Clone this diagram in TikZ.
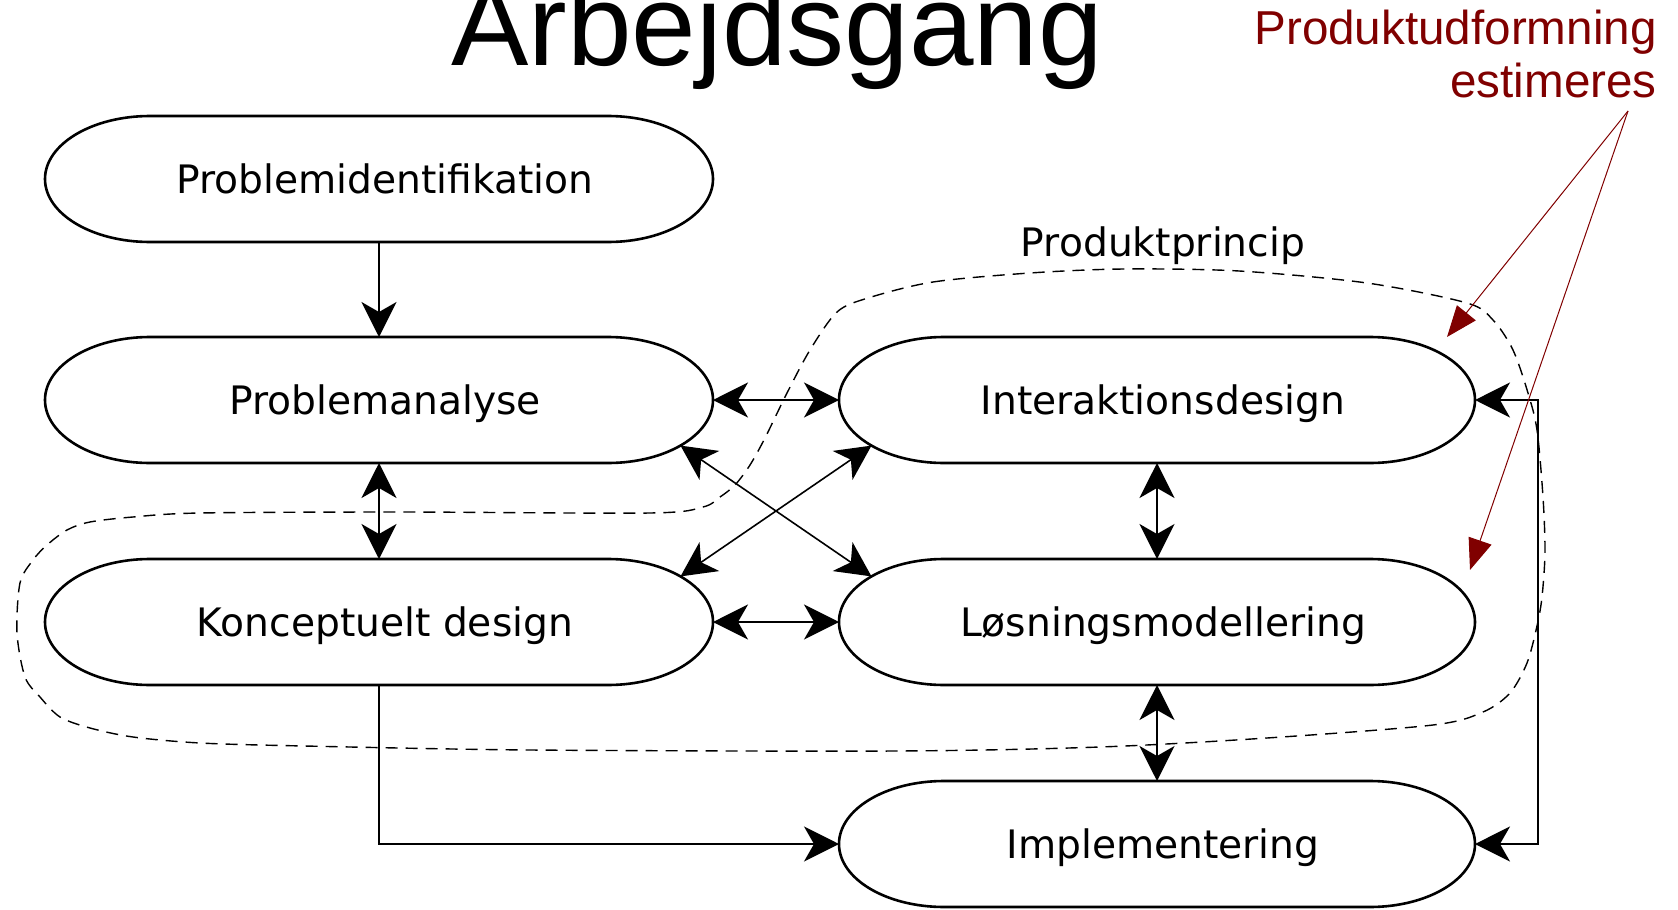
\documentclass[tikz,border=0pt]{standalone}
\usepackage{fontspec}
\setmainfont{DejaVu Sans}
\newfontfamily\headfont{Liberation Sans}
\usetikzlibrary{arrows.meta,calc}
\definecolor{notered}{HTML}{800000}

\tikzset{
  stadiumline/.style={line width=1.3pt},
  boxtext/.style={inner sep=0pt, text height=16pt, text depth=2pt,
    font=\fontsize{19.6pt}{23pt}\selectfont},
  conn/.style={line width=0.8pt},
  thinconn/.style={line width=0.7pt},
  >={Stealth[length=17.5pt,width=17.5pt,inset=5pt]},
  scopeloop/.style={dash pattern=on 6pt off 4pt, line width=0.7pt},
  note/.style={draw=notered, line width=0.5pt, -{Triangle[length=15.5pt,width=12pt,fill=notered]}},
}

% stadium-shaped box: name, centre x, centre y, half width, text
\newcommand{\stadiumnode}[5]{%
  \coordinate (#1) at (#2,#3);
  \draw[stadiumline] ({#2-#4+105},{#3-63}) -- ({#2+#4-105},{#3-63})
    arc[start angle=-90,end angle=90,x radius=105,y radius=63]
    -- ({#2-#4+105},{#3+63})
    arc[start angle=90,end angle=270,x radius=105,y radius=63] -- cycle;
  \node[boxtext] (#1-txt) at ({#2+6},#3) {#5};
}

\begin{document}
\begin{tikzpicture}[x=0.5pt,y=-0.5pt]
\useasboundingbox (0,0) rectangle (1678,910);

\node[font=\headfont\fontsize{58pt}{60pt}\selectfont, anchor=base, inner sep=0pt] (title) at (777,65) {Arbejdsgang};

\stadiumnode{pi}{379}{179}{334}{Problemidentifikation}
\stadiumnode{pa}{379}{400}{334}{Problemanalyse}
\stadiumnode{kd}{379}{622}{334}{Konceptuelt design}
\stadiumnode{id}{1157}{400}{318}{Interaktionsdesign}
\stadiumnode{lm}{1157}{622}{318}{Løsningsmodellering}
\stadiumnode{im}{1157}{844}{318}{Implementering}

% process connectors
\draw[conn,->] ($(pi)+(0,63)$) -- ($(pa)+(0,-63)$);
\draw[conn,<->] ($(pa)+(0,63)$) -- ($(kd)+(0,-63)$);
\draw[conn,<->] ($(pa)+(334,0)$) -- ($(id)+(-318,0)$);
\draw[conn,<->] ($(kd)+(334,0)$) -- ($(lm)+(-318,0)$);
\draw[conn,<->] ($(pa)+(301.5,45.6)$) -- ($(lm)+(-285.5,-45.6)$);
\draw[conn,<->] ($(kd)+(301.5,-45.6)$) -- ($(id)+(-285.5,45.6)$);
\draw[conn,<->] ($(id)+(0,63)$) -- ($(lm)+(0,-63)$);
\draw[conn,<->] ($(lm)+(0,63)$) -- ($(im)+(0,-63)$);
\draw[thinconn,->] ($(kd)+(0,63)$) |- ($(im)+(-318,0)$);
\draw[thinconn,<->] ($(id)+(318,0)$) -- ++(63,0) |- ($(im)+(318,0)$);

% product principle boundary
\draw[scopeloop] plot[smooth cycle, tension=0.5] coordinates {
  (868,298) (933,282) (1030,273) (1124,269) (1239,271) (1367,283)
  (1467,303) (1493,320) (1513,350) (1528,393) (1537,430) (1543,497)
  (1545,552) (1542,597) (1537,626) (1527,663) (1510,693) (1483,712)
  (1433,725) (1267,738) (1100,747) (897,751) (530,750) (304,746)
  (200,743) (133,737) (90,728) (60,717) (40,697) (25,677) (17,633)
  (20,583) (33,560) (47,545) (67,530) (90,522) (133,517) (200,513)
  (400,512) (650,513) (703,507) (720,497) (735,485) (750,465)
  (765,438) (787,393) (810,350) (837,312)};
\node[font=\fontsize{19.6pt}{23pt}\selectfont, inner sep=0pt, anchor=base] (pp) at (1163,256) {Produktprincip};

% estimation note
\node[font=\headfont\fontsize{23.8pt}{26.5pt}\selectfont, text=notered, align=right, anchor=north east, inner sep=0pt] (est) at (1657,10) {Produktudformning\\estimeres};
\coordinate (src) at (1628,111);
\coordinate (tipA) at (1447,337);
\coordinate (tipB) at (1470,570);
\draw[note] (src) -- (tipA);
\draw[note] (src) -- (tipB);
\end{tikzpicture}
\end{document}
